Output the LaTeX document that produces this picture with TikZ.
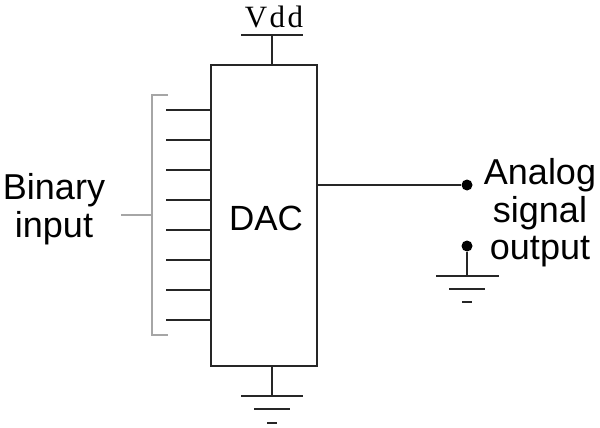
\documentclass[tikz,border=0pt]{standalone}
\usepackage{fontspec}
\setmainfont{Liberation Sans}
\newfontfamily\vddfont[LetterSpace=8]{Liberation Serif}
\begin{document}
\begin{tikzpicture}[x=1pt,y=-1pt,
 wire/.style={line width=2.6pt,black!85},
 bracket/.style={line width=2.4pt,black!35},
 lbl/.style={font=\fontsize{36}{37.5}\selectfont,inner sep=0pt,black},
 dot/.style={circle,fill=black,inner sep=0pt,minimum size=11pt}]
\useasboundingbox (0,0) rectangle (600,428);
\node[draw=black!85,line width=2.6pt,minimum width=106pt,minimum height=301pt,inner sep=0pt] (dac) at (264,215.5) {};
\node[lbl,font=\fontsize{35}{35}\selectfont] (daclabel) at (266,218) {DAC};
\node[inner sep=0pt,font=\fontsize{31}{31}\selectfont\vddfont,anchor=base] (vdd) at (274,28) {Vdd};
\coordinate (vt) at (272,35);
\coordinate (vl) at (241,35);
\coordinate (vr) at (303,35);
\draw[wire] (vl) -- (vr);
\draw[wire] (vt) -- (272,65);
\foreach \y in {110,140,170,200,230,260,290,320}{
 \draw[wire] (166,\y) -- (211,\y);
}
\draw[bracket] (168,95) -- (152,95) -- (152,335) -- (168,335);
\draw[bracket] (121,215) -- (152,215);
\node[lbl,align=center] (bin) at (54,209) {Binary\\input};
\node[dot] (o1) at (467,185) {};
\node[dot] (o2) at (467,246) {};
\draw[wire] (317,185) -- (o1);
\draw[wire] (o2) -- (467,276);
\draw[wire] (436,276) -- (499,276);
\draw[wire] (449,289) -- (485,289);
\draw[wire] (462,302) -- (472,302);
\node[lbl,align=center] (out) at (540,213) {Analog\\signal\\output};
\draw[wire] (272,366) -- (272,396);
\draw[wire] (241,396) -- (303,396);
\draw[wire] (254,409) -- (290,409);
\draw[wire] (267,423) -- (277,423);
\end{tikzpicture}
\end{document}
